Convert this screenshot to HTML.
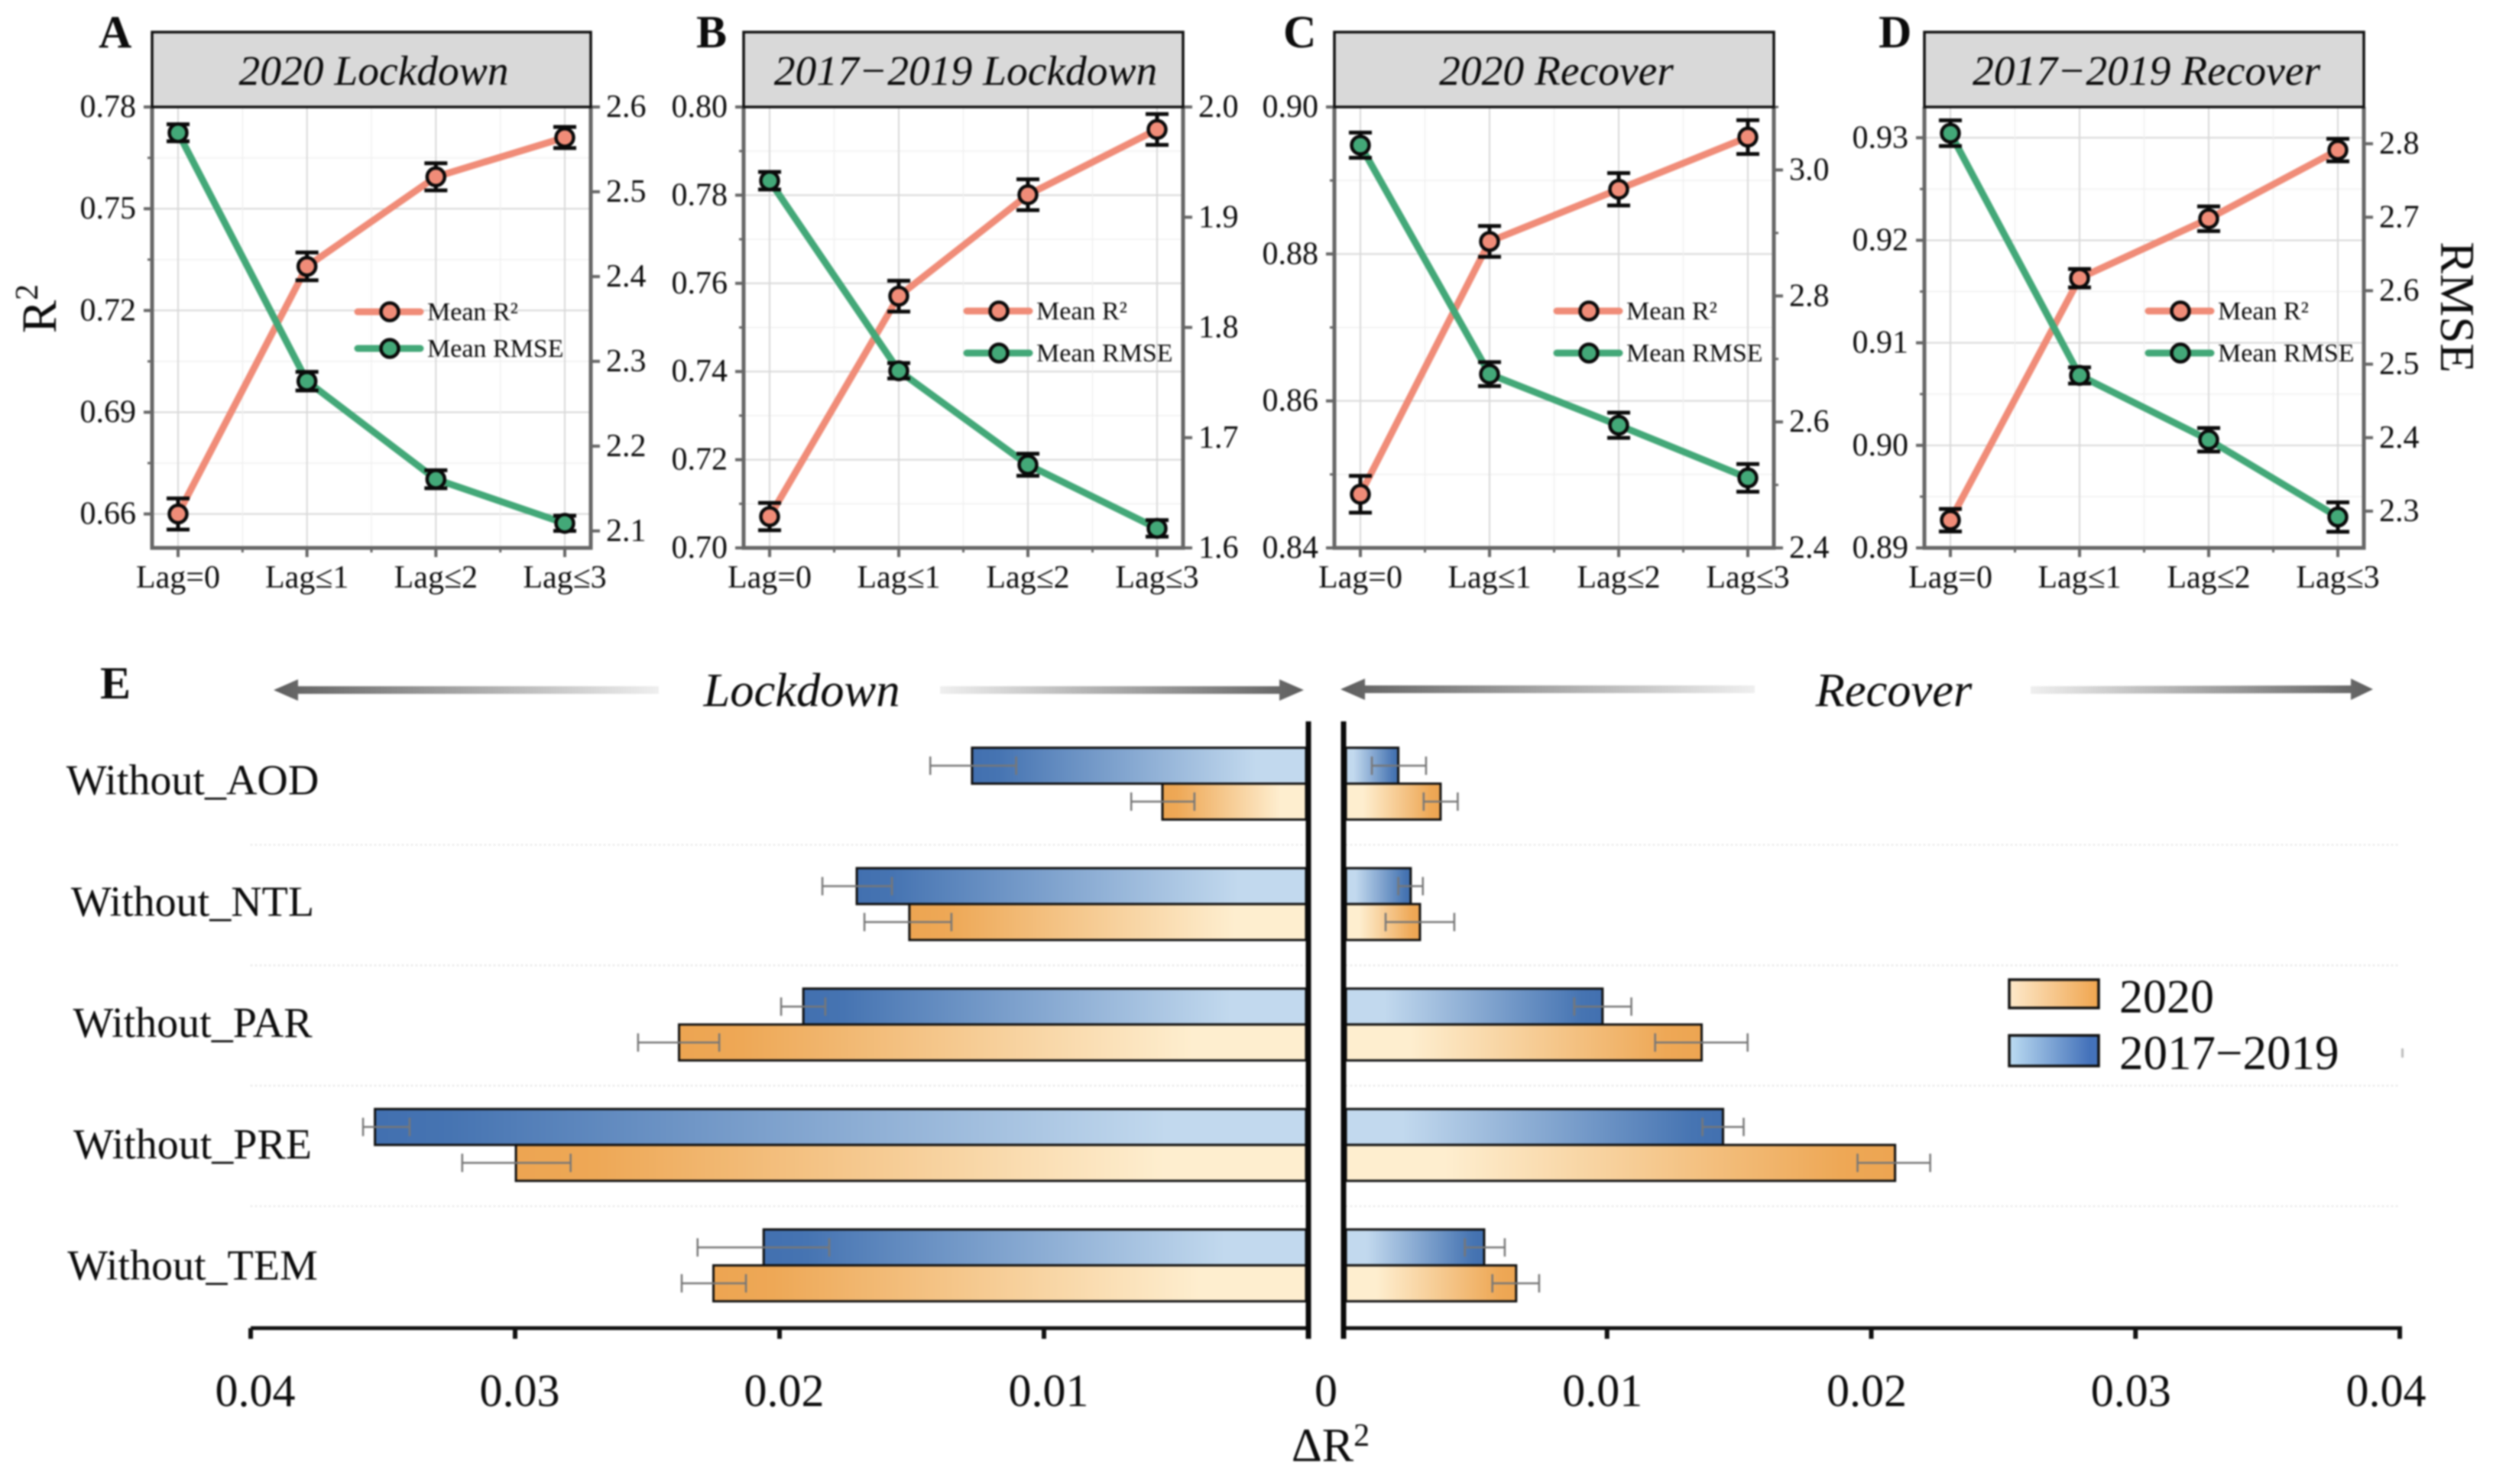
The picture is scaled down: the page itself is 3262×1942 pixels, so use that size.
<!DOCTYPE html>
<html lang="en">
<head>
<meta charset="utf-8">
<title>R2 and RMSE by lag, and Delta R2 by omitted variable</title>
<style>
html,body{margin:0;padding:0;background:#fff;width:3262px;height:1942px;overflow:hidden}
svg{display:block;filter:blur(1px)}
text{font-family:"Liberation Serif",serif;fill:#0c0c0c}
</style>
</head>
<body>
<svg id="figure" xmlns="http://www.w3.org/2000/svg" width="3262" height="1942" viewBox="0 0 3262 1942">
<defs>
<linearGradient id="blueLeft" x1="0" x2="1" y1="0" y2="0"><stop offset="0" stop-color="#4270b0"/><stop offset="0.08" stop-color="#4674b2"/><stop offset="0.85" stop-color="#c2d9ee"/><stop offset="1" stop-color="#c2d9ee"/></linearGradient>
<linearGradient id="blueRight" x1="1" x2="0" y1="0" y2="0"><stop offset="0" stop-color="#4270b0"/><stop offset="0.08" stop-color="#4674b2"/><stop offset="0.85" stop-color="#c2d9ee"/><stop offset="1" stop-color="#c2d9ee"/></linearGradient>
<linearGradient id="orangeLeft" x1="0" x2="1" y1="0" y2="0"><stop offset="0" stop-color="#eda552"/><stop offset="0.1" stop-color="#eea856"/><stop offset="0.82" stop-color="#feeecf"/><stop offset="1" stop-color="#feeecf"/></linearGradient>
<linearGradient id="orangeRight" x1="1" x2="0" y1="0" y2="0"><stop offset="0" stop-color="#eda552"/><stop offset="0.1" stop-color="#eea856"/><stop offset="0.82" stop-color="#feeecf"/><stop offset="1" stop-color="#feeecf"/></linearGradient>
<linearGradient id="arrowToLeft" x1="0" x2="1" y1="0" y2="0"><stop offset="0" stop-color="#5e5e5e"/><stop offset="1" stop-color="#efefef"/></linearGradient>
<linearGradient id="arrowToRight" x1="0" x2="1" y1="0" y2="0"><stop offset="0" stop-color="#efefef"/><stop offset="1" stop-color="#5e5e5e"/></linearGradient>
<linearGradient id="legendOrange" x1="0" x2="1" y1="0" y2="0"><stop offset="0" stop-color="#fde9cb"/><stop offset="1" stop-color="#f0a54e"/></linearGradient>
<linearGradient id="legendBlue" x1="0" x2="1" y1="0" y2="0"><stop offset="0" stop-color="#bcdcf2"/><stop offset="0.9" stop-color="#4472ba"/><stop offset="1" stop-color="#4472ba"/></linearGradient>
</defs>

<text x="129" y="62" font-size="60" font-weight="bold">A</text>
<text x="911" y="62" font-size="60" font-weight="bold">B</text>
<text x="1679" y="62" font-size="60" font-weight="bold">C</text>
<text x="2458" y="62" font-size="60" font-weight="bold">D</text>
<text x="131" y="914" font-size="60" font-weight="bold">E</text>

<text transform="translate(73,404) rotate(-90)" text-anchor="middle" font-size="65">R<tspan font-size="42" dy="-24">2</tspan></text>
<text transform="translate(3194,402) rotate(90)" text-anchor="middle" font-size="63">RMSE</text>

<g>
<polygon points="358,903 390,889 390,898 862,898 862,908 390,908 390,917" fill="url(#arrowToLeft)"/>
<polygon points="1706,903 1674,889 1674,898 1230,898 1230,908 1674,908 1674,917" fill="url(#arrowToRight)"/>
<polygon points="1754,902 1786,888 1786,897 2296,897 2296,907 1786,907 1786,916" fill="url(#arrowToLeft)"/>
<polygon points="3105,902 3076,888 3076,897 2657,898 2657,908 3076,907 3076,916" fill="url(#arrowToRight)"/>
</g>
<text x="1049" y="924" text-anchor="middle" font-size="62.5" font-style="italic">Lockdown</text>
<text x="2478" y="924" text-anchor="middle" font-size="62.5" font-style="italic">Recover</text>

<g id="barChart"></g>

<g>
<rect x="2629" y="1282" width="117" height="37" fill="url(#legendOrange)" stroke="#111" stroke-width="3.5"/>
<text x="2773" y="1325" font-size="62">2020</text>
<rect x="2629" y="1355" width="117" height="40" fill="url(#legendBlue)" stroke="#111" stroke-width="3.5"/>
<text x="2773" y="1399" font-size="63">2017−2019</text>
<rect x="3142" y="1372" width="3" height="12" fill="#bbb"/>
</g>

<text x="1741" y="1912" text-anchor="middle" font-size="62">ΔR<tspan font-size="42" dy="-20">2</tspan></text>
</svg>

<script>
const categories = ['Lag=0', 'Lag≤1', 'Lag≤2', 'Lag≤3'];

const r2DomainA = [0.65, 0.78];
const rmseDomainA = [2.08, 2.6];
const r2TicksA = [0.66, 0.69, 0.72, 0.75, 0.78];
const rmseTicksA = [2.1, 2.2, 2.3, 2.4, 2.5, 2.6];
const r2ValuesA = [0.66, 0.733, 0.7594, 0.771];
const r2ErrorsA = [0.0046, 0.0041, 0.004, 0.0031];
const rmseValuesA = [2.5696, 2.2766, 2.161, 2.109];
const rmseErrorsA = [0.01, 0.011, 0.0106, 0.009];

const r2DomainB = [0.7, 0.8];
const rmseDomainB = [1.6, 2.0];
const r2TicksB = [0.7, 0.72, 0.74, 0.76, 0.78, 0.8];
const rmseTicksB = [1.6, 1.7, 1.8, 1.9, 2.0];
const r2ValuesB = [0.7071, 0.7571, 0.7801, 0.7949];
const r2ErrorsB = [0.0031, 0.0035, 0.0035, 0.0035];
const rmseValuesB = [1.9331, 1.7607, 1.6754, 1.6177];
const rmseErrorsB = [0.008, 0.007, 0.01, 0.0075];

const r2DomainC = [0.84, 0.9];
const rmseDomainC = [2.4, 3.1];
const r2TicksC = [0.84, 0.86, 0.88, 0.9];
const rmseTicksC = [2.4, 2.6, 2.8, 3.0];
const r2ValuesC = [0.8473, 0.8817, 0.8888, 0.8959];
const r2ErrorsC = [0.0025, 0.0021, 0.0022, 0.0023];
const rmseValuesC = [3.0393, 2.6759, 2.5947, 2.5111];
const rmseErrorsC = [0.02, 0.019, 0.02, 0.022];

const r2DomainD = [0.89, 0.933];
const rmseDomainD = [2.25, 2.85];
const r2TicksD = [0.89, 0.9, 0.91, 0.92, 0.93];
const rmseTicksD = [2.3, 2.4, 2.5, 2.6, 2.7, 2.8];
const r2ValuesD = [0.8927, 0.9163, 0.9221, 0.9288];
const r2ErrorsD = [0.0011, 0.0009, 0.0012, 0.0011];
const rmseValuesD = [2.8143, 2.4847, 2.3971, 2.292];
const rmseErrorsD = [0.0175, 0.011, 0.016, 0.02];

const features = ['Without_AOD', 'Without_NTL', 'Without_PAR', 'Without_PRE', 'Without_TEM'];
const deltaTicks = [0.01, 0.02, 0.03, 0.04];
const lockdownBlue = [0.01272, 0.01708, 0.0191, 0.0353, 0.0206];
const lockdownBlueErrOuter = [0.01430, 0.01838, 0.01994, 0.03575, 0.0231];
const lockdownBlueErrInner = [0.01105, 0.01575, 0.01827, 0.03399, 0.01812];
const lockdownOrange = [0.00552, 0.01509, 0.0238, 0.02997, 0.0225];
const lockdownOrangeErrOuter = [0.0067, 0.01679, 0.02535, 0.032, 0.0237];
const lockdownOrangeErrInner = [0.00431, 0.01350, 0.02228, 0.0279, 0.02127];
const recoverBlue = [0.0021, 0.00257, 0.00983, 0.01439, 0.00535];
const recoverBlueErrInner = [0.0011, 0.0021, 0.00876, 0.01361, 0.00462];
const recoverBlueErrOuter = [0.00315, 0.00303, 0.01092, 0.01517, 0.00613];
const recoverOrange = [0.0037, 0.00292, 0.01358, 0.0209, 0.00656];
const recoverOrangeErrInner = [0.00306, 0.00162, 0.01182, 0.01948, 0.00566];
const recoverOrangeErrOuter = [0.00435, 0.00422, 0.01532, 0.02223, 0.00743];

const NS = 'http://www.w3.org/2000/svg';
const figure = document.getElementById('figure');
const barChart = document.getElementById('barChart');

function mk(tag, attrs, parent, text) {
  const el = document.createElementNS(NS, tag);
  for (const k in attrs) el.setAttribute(k, attrs[k]);
  if (text !== undefined) el.textContent = text;
  parent.appendChild(el);
  return el;
}
function linear(domain, range) {
  return v => range[0] + (v - domain[0]) / (domain[1] - domain[0]) * (range[1] - range[0]);
}

function drawPanel(letter, title, left, right, r2Domain, rmseDomain, r2Ticks, rmseTicks, r2Values, r2Errors, rmseValues, rmseErrors, rightMinor, legendX, legendY1, legendY2) {
  const top = 140, bottom = 717;
  const panel = mk('g', {}, figure);
  
  
  const yL = linear(r2Domain, [bottom, top]);
  const yR = linear(rmseDomain, [bottom, top]);
  const x = i => left + 34 + i * (right - left - 68) / (categories.length - 1);

  const grid = mk('g', {}, panel);
  
  
  const step = r2Ticks[1] - r2Ticks[0];
  r2Ticks.forEach(t => {
    const gl = mk('line', {x1: left, x2: right, y1: yL(t), y2: yL(t), stroke: '#d8d8d8', 'stroke-width': 2}, grid);
    
    
    const mv = t + step / 2;
    if (yL(mv) > top + 4) {
      const ml = mk('line', {x1: left, x2: right, y1: yL(mv), y2: yL(mv), stroke: '#f0f0f0', 'stroke-width': 1.5}, grid);
      
      
      const mt = mk('line', {x1: left - 6, x2: left, y1: yL(mv), y2: yL(mv), stroke: '#666', 'stroke-width': 3}, panel);
      
      
    }
  });
  categories.forEach((c, i) => {
    const gl = mk('line', {x1: x(i), x2: x(i), y1: top, y2: bottom, stroke: '#d8d8d8', 'stroke-width': 2}, grid);
    
    
    const tk = mk('line', {x1: x(i), x2: x(i), y1: bottom, y2: bottom + 12, stroke: '#666', 'stroke-width': 4}, panel);
    
    
    const lb = mk('text', {x: x(i), y: 769, 'text-anchor': 'middle', 'font-size': 42}, panel, c);
    
    
    if (i < categories.length - 1) {
      const mx = (x(i) + x(i + 1)) / 2;
      const ml = mk('line', {x1: mx, x2: mx, y1: top, y2: bottom, stroke: '#f0f0f0', 'stroke-width': 1.5}, grid);
      
      
      const mt = mk('line', {x1: mx, x2: mx, y1: bottom, y2: bottom + 6, stroke: '#666', 'stroke-width': 3}, panel);
      
      
    }
  });

  const decimals = 2;
  r2Ticks.forEach(t => {
    const tk = mk('line', {x1: left - 11, x2: left, y1: yL(t), y2: yL(t), stroke: '#666', 'stroke-width': 4}, panel);
    
    
    const lb = mk('text', {x: left - 21, y: yL(t) + 13, 'text-anchor': 'end', 'font-size': 42}, panel, t.toFixed(decimals));
    
    
  });
  rmseTicks.forEach(t => {
    const tk = mk('line', {x1: right, x2: right + 12, y1: yR(t), y2: yR(t), stroke: '#666', 'stroke-width': 4}, panel);
    
    
    const lb = mk('text', {x: right + 20, y: yR(t) + 13, 'font-size': 42}, panel, t.toFixed(1));
    
    
    if (rightMinor) {
      const mv = t + (rmseTicks[1] - rmseTicks[0]) / 2;
      const mt = mk('line', {x1: right, x2: right + 6, y1: yR(mv), y2: yR(mv), stroke: '#666', 'stroke-width': 3}, panel);
      
      
    }
  });

  const frame = mk('path', {d: `M${left} ${top}V${bottom}H${right}V${top}`, fill: 'none', stroke: '#666', 'stroke-width': 5}, panel);
  
  

  const strip = mk('rect', {x: left, y: 42, width: right - left, height: 98, fill: '#d9d9d9', stroke: '#111', 'stroke-width': 3.5}, panel);
  
  
  const tt = mk('text', {x: (left + right) / 2 + 3, y: 111, 'text-anchor': 'middle', 'font-size': 55.5, 'font-style': 'italic'}, panel, title);
  
  

  const r2Line = mk('polyline', {points: r2Values.map((v, i) => x(i) + ',' + yL(v)).join(' '), fill: 'none', stroke: '#f08c78', 'stroke-width': 9}, panel);
  
  
  const rmseLine = mk('polyline', {points: rmseValues.map((v, i) => x(i) + ',' + yR(v)).join(' '), fill: 'none', stroke: '#43a878', 'stroke-width': 9}, panel);
  
  

  function drawPoints(values, errors, scale, color, prefix) {
    values.forEach((v, i) => {
      const hi = scale(v + errors[i]), lo = scale(v - errors[i]), cx = x(i);
      const eb = mk('path', {d: `M${cx - 15} ${hi}H${cx + 15}M${cx} ${hi}V${lo}M${cx - 15} ${lo}H${cx + 15}`, fill: 'none', stroke: '#0a0a0a', 'stroke-width': 5}, panel);
      
      
      const pt = mk('circle', {cx: cx, cy: scale(v), r: 11.5, fill: color, stroke: '#0a0a0a', 'stroke-width': 4.5}, panel);
      
      
    });
  }
  drawPoints(r2Values, r2Errors, yL, '#f08c78', 'r2');
  drawPoints(rmseValues, rmseErrors, yR, '#43a878', 'rmse');

  function legendRow(y, color, label, prefix) {
    const ln = mk('line', {x1: legendX, x2: legendX + 82, y1: y, y2: y, stroke: color, 'stroke-width': 9, 'stroke-linecap': 'round'}, panel);
    
    
    const mk1 = mk('circle', {cx: legendX + 42, cy: y, r: 11.5, fill: color, stroke: '#0a0a0a', 'stroke-width': 4.5}, panel);
    
    
    const tx = mk('text', {x: legendX + 91, y: y + 11, 'font-size': 34}, panel, label);
    
    
  }
  legendRow(legendY1, '#f08c78', 'Mean R²', 'r2');
  legendRow(legendY2, '#43a878', 'Mean RMSE', 'rmse');
}

drawPanel('a', '2020 Lockdown', 199, 773, r2DomainA, rmseDomainA, r2TicksA, rmseTicksA, r2ValuesA, r2ErrorsA, rmseValuesA, rmseErrorsA, false, 468, 408, 456);
drawPanel('b', '2017−2019 Lockdown', 973, 1548, r2DomainB, rmseDomainB, r2TicksB, rmseTicksB, r2ValuesB, r2ErrorsB, rmseValuesB, rmseErrorsB, false, 1265, 407, 462);
drawPanel('c', '2020 Recover', 1746, 2321, r2DomainC, rmseDomainC, r2TicksC, rmseTicksC, r2ValuesC, r2ErrorsC, rmseValuesC, rmseErrorsC, true, 2037, 407, 462);
drawPanel('d', '2017−2019 Recover', 2518, 3093, r2DomainD, rmseDomainD, r2TicksD, rmseTicksD, r2ValuesD, r2ErrorsD, rmseValuesD, rmseErrorsD, false, 2811, 407, 462);

const xLeft = linear([0, 0.04], [1712, 328]);
const xRight = linear([0, 0.04], [1757, 3140]);
const bandTop = i => 978.5 + i * 157.6;
const barHeight = 47;

features.forEach((f, i) => {
  const lb = mk('text', {x: 252, y: bandTop(i) + barHeight + 14 + i * 1.2, 'text-anchor': 'middle', 'font-size': 56}, barChart, f);
  
  
  if (i > 0) {
    const sy = bandTop(i) - 30.5;
    const s1 = mk('line', {x1: 328, x2: 1709, y1: sy, y2: sy, stroke: '#ddd', 'stroke-width': 2, 'stroke-dasharray': '2 4'}, barChart);
    
    
    const s2 = mk('line', {x1: 1761, x2: 3141, y1: sy, y2: sy, stroke: '#ddd', 'stroke-width': 2, 'stroke-dasharray': '2 4'}, barChart);
    
    
  }
});

function drawLeftBars(values, outer, inner, offset, fill, prefix) {
  values.forEach((v, i) => {
    const px = xLeft(v), y = bandTop(i) + offset;
    const b = mk('rect', {x: px, y: y, width: 1709 - px, height: barHeight, fill: fill, stroke: '#111', 'stroke-width': 3}, barChart);
    
    
  });
  values.forEach((v, i) => {
    const y = bandTop(i) + offset + barHeight / 2, a = xLeft(outer[i]), c = xLeft(inner[i]);
    const e = mk('path', {d: `M${a} ${y - 12}V${y + 12}M${a} ${y}H${c}M${c} ${y - 12}V${y + 12}`, fill: 'none', stroke: '#777', 'stroke-width': 2.5}, barChart);
    
    
  });
}
function drawRightBars(values, inner, outer, offset, fill, prefix) {
  values.forEach((v, i) => {
    const px = xRight(v), y = bandTop(i) + offset;
    const b = mk('rect', {x: 1761, y: y, width: px - 1761, height: barHeight, fill: fill, stroke: '#111', 'stroke-width': 3}, barChart);
    
    
  });
  values.forEach((v, i) => {
    const y = bandTop(i) + offset + barHeight / 2, a = xRight(inner[i]), c = xRight(outer[i]);
    const e = mk('path', {d: `M${a} ${y - 12}V${y + 12}M${a} ${y}H${c}M${c} ${y - 12}V${y + 12}`, fill: 'none', stroke: '#777', 'stroke-width': 2.5}, barChart);
    
    
  });
}
drawLeftBars(lockdownBlue, lockdownBlueErrOuter, lockdownBlueErrInner, 0, 'url(#blueLeft)', 'lockdown-2017-2019');
drawLeftBars(lockdownOrange, lockdownOrangeErrOuter, lockdownOrangeErrInner, barHeight, 'url(#orangeLeft)', 'lockdown-2020');
drawRightBars(recoverBlue, recoverBlueErrInner, recoverBlueErrOuter, 0, 'url(#blueRight)', 'recover-2017-2019');
drawRightBars(recoverOrange, recoverOrangeErrInner, recoverOrangeErrOuter, barHeight, 'url(#orangeRight)', 'recover-2020');

const axisLeft = mk('line', {x1: 328, x2: 1712, y1: 1738, y2: 1738, stroke: '#111', 'stroke-width': 5}, barChart);


const axisRight = mk('line', {x1: 1758, x2: 3143, y1: 1738, y2: 1738, stroke: '#111', 'stroke-width': 5}, barChart);


const vertLeft = mk('line', {x1: 1712, x2: 1712, y1: 944, y2: 1752, stroke: '#0a0a0a', 'stroke-width': 7}, barChart);


const vertRight = mk('line', {x1: 1758, x2: 1758, y1: 944, y2: 1752, stroke: '#0a0a0a', 'stroke-width': 7}, barChart);



deltaTicks.forEach(t => {
  const tl = mk('line', {x1: xLeft(t), x2: xLeft(t), y1: 1738, y2: 1752, stroke: '#111', 'stroke-width': 6}, barChart);
  
  
  const tr = mk('line', {x1: xRight(t), x2: xRight(t), y1: 1738, y2: 1752, stroke: '#111', 'stroke-width': 6}, barChart);
  
  
  const ll = mk('text', {x: xLeft(t) + 6, y: 1840, 'text-anchor': 'middle', 'font-size': 60}, barChart, t.toFixed(2));
  
  
  const rl = mk('text', {x: Math.min(xRight(t) - 6, 3122), y: 1840, 'text-anchor': 'middle', 'font-size': 60}, barChart, t.toFixed(2));
  
  
});
const zeroLabel = mk('text', {x: 1735, y: 1840, 'text-anchor': 'middle', 'font-size': 60}, barChart, '0');


</script>
</body>
</html>
